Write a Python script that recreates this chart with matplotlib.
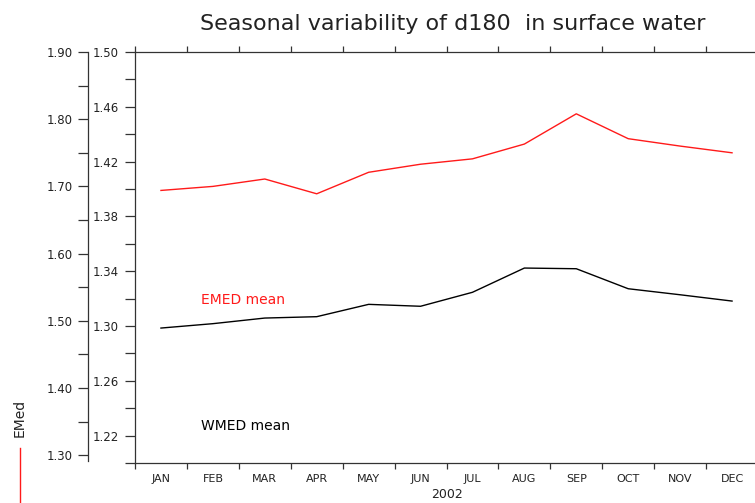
import numpy as np
import matplotlib
matplotlib.use("Agg")
from matplotlib import pyplot as plt
from matplotlib.lines import Line2D
from matplotlib.ticker import FixedLocator, NullFormatter

months = ["JAN", "FEB", "MAR", "APR", "MAY", "JUN",
          "JUL", "AUG", "SEP", "OCT", "NOV", "DEC"]
# EMED mean (outer axis, 1.30 - 1.90)
emed = [1.694, 1.700, 1.711, 1.689, 1.721, 1.733,
        1.741, 1.763, 1.808, 1.771, 1.760, 1.750]
# WMED mean (inner axis, 1.20 - 1.50)
wmed = [1.2985, 1.3017, 1.3058, 1.3068, 1.3158, 1.3144,
        1.3246, 1.3423, 1.3418, 1.3272, 1.3228, 1.3182]
inner_ticks = [1.22, 1.26, 1.30, 1.34, 1.38, 1.42, 1.46, 1.50]
outer_ticks = [1.30, 1.40, 1.50, 1.60, 1.70, 1.80, 1.90]

W, H = 755, 503
fig = plt.figure(figsize=(W / 100, H / 100), dpi=100)
plt.rcParams['font.family'] = ['DejaVu Sans']

# axes box in pixels: left 135, top 52, bottom 463, right past the edge
x0, x1, yt, yb = 135, 758, 52, 463
ax = fig.add_axes([x0 / W, 1 - yb / H, (x1 - x0) / W, (yb - yt) / H])
x = np.arange(1, 13)
spine_c = '#333333'

ax.plot(x, wmed, color='black', lw=1.0)
ax.set_xlim(0.5, 12.5)
ax.set_ylim(1.20, 1.50)
ax.spines['right'].set_visible(False)
for s in ['left', 'top', 'bottom']:
    ax.spines[s].set_color(spine_c)
    ax.spines[s].set_linewidth(0.9)

ax.set_xticks(x)
ax.set_xticklabels(months)
ax.set_xticks(np.arange(0.5, 13, 1), minor=True)
ax.tick_params(axis='x', which='major', length=0, pad=8, labelsize=8,
               colors='#222222')
ax.tick_params(axis='x', which='minor', length=4, width=0.9, direction='out',
               top=True, bottom=True, color=spine_c)

ax.yaxis.set_major_locator(FixedLocator(inner_ticks))
ax.yaxis.set_minor_locator(FixedLocator(np.round(np.arange(1.20, 1.50, 0.04), 2)))
ax.set_yticklabels(["%.2f" % v for v in inner_ticks])
ax.tick_params(axis='y', which='both', length=7.2, width=0.9, direction='out',
               pad=4.5, labelsize=8.5, color=spine_c, labelcolor='#222222')

# outer axis for the EMED curve
ax2 = ax.twinx()
ax2.plot(x, emed, color='#ff1a1a', lw=1.0)
ax2.set_ylim(1.90 - (yb - yt) / 672.0, 1.90)
for s in ['right', 'top', 'bottom']:
    ax2.spines[s].set_visible(False)
ax2.spines['left'].set_visible(True)
ax2.spines['left'].set_position(('axes', (88 - x0) / (x1 - x0)))
ax2.spines['left'].set_bounds(1.291, 1.90)
ax2.spines['left'].set_color(spine_c)
ax2.spines['left'].set_linewidth(0.9)
ax2.yaxis.set_ticks_position('left')
ax2.yaxis.set_major_locator(FixedLocator(outer_ticks))
ax2.yaxis.set_minor_locator(FixedLocator([1.35, 1.45, 1.55, 1.65, 1.75, 1.85]))
ax2.yaxis.set_minor_formatter(NullFormatter())
ax2.set_yticklabels(["%.2f" % v for v in outer_ticks])
ax2.tick_params(axis='y', which='both', length=7.2, width=0.9, direction='out',
                pad=4, labelsize=8.5, color=spine_c, labelcolor='#222222')

ax.text((201 - x0) / (x1 - x0), (yb - 300) / (yb - yt), "EMED mean",
        color='#ff1a1a', fontsize=10, ha='left', va='center',
        transform=ax.transAxes)
ax.text((201 - x0) / (x1 - x0), (yb - 426) / (yb - yt), "WMED mean",
        color='black', fontsize=10, ha='left', va='center',
        transform=ax.transAxes)

fig.text(453 / W, 1 - 24 / H, "Seasonal variability of d180  in surface water",
         fontsize=16, ha='center', va='center', color='#222222')
fig.text(447 / W, 1 - 495 / H, "2002", fontsize=9, ha='center',
         va='center', color='#222222')
fig.text(20 / W, 1 - 418 / H, "EMed", fontsize=10, rotation=90,
         ha='center', va='center', color='#222222')
fig.add_artist(Line2D([20 / W, 20 / W], [1 - 448 / H, 0], color='#ff1a1a',
                      lw=1.0, transform=fig.transFigure))

fig.savefig("out.png", dpi=100)
